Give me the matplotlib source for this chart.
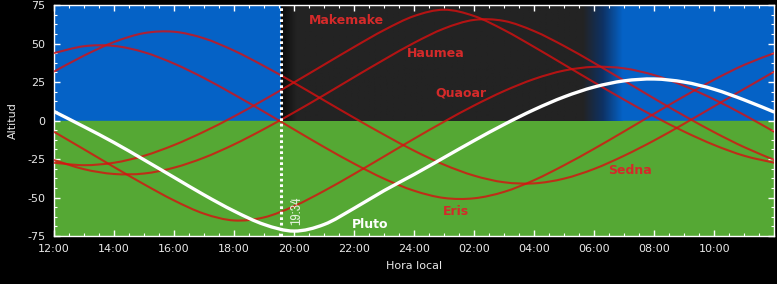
import numpy as np
import matplotlib
matplotlib.use("Agg")
import matplotlib.pyplot as plt
from matplotlib.path import Path
from matplotlib.patches import PathPatch
from matplotlib.ticker import MultipleLocator
from matplotlib import font_manager

plt.rcParams['font.family'] = ['DejaVu Sans']
plt.rcParams['axes.unicode_minus'] = False

# horas (12:00 -> 12:00 del dia siguiente, 36 = 12:00)
hours = np.arange(12, 37)
tick_hours = [12, 14, 16, 18, 20, 22, 24, 26, 28, 30, 32, 34]
tick_labels = ["12:00", "14:00", "16:00", "18:00", "20:00", "22:00", "24:00",
               "02:00", "04:00", "06:00", "08:00", "10:00"]

makemake = [-27.4, -29.0, -27.4, -22.9, -15.9, -7.2, 2.7, 13.5, 24.8, 36.3, 47.8, 58.8, 67.9,
            72.0, 67.9, 58.8, 47.8, 36.3, 24.8, 13.5, 2.7, -7.2, -15.9, -22.9, -27.4]
haumea = [-25.6, -31.6, -34.7, -34.4, -30.6, -24.1, -15.5, -5.5, 5.3, 16.6, 28.2, 39.6, 50.5,
          59.8, 65.4, 64.7, 58.1, 48.4, 37.4, 25.9, 14.3, 3.1, -7.6, -17.3, -25.6]
quaoar = [-7.3, -18.7, -30.2, -41.4, -51.9, -60.5, -64.9, -62.9, -55.6, -45.7, -34.7, -23.3, -11.8,
          -0.7, 9.8, 19.2, 27.0, 32.5, 34.9, 33.9, 29.5, 22.5, 13.7, 3.6, -7.3]
eris = [43.8, 48.3, 48.5, 44.4, 37.0, 27.6, 16.9, 5.7, -5.8, -17.2, -28.0, -37.8, -45.6,
        -50.3, -50.5, -46.3, -38.7, -29.0, -18.3, -7.0, 4.5, 15.8, 26.6, 36.2, 43.8]
sedna = [31.8, 42.2, 51.0, 56.8, 57.7, 53.4, 45.4, 35.4, 24.5, 13.1, 1.8, -9.2, -19.6,
         -28.7, -35.8, -40.1, -40.8, -37.7, -31.4, -22.8, -12.9, -2.0, 9.3, 20.6, 31.8]
pluto = [5.9, -4.0, -14.3, -25.5, -36.9, -48.3, -58.8, -67.5, -71.8, -67.5, -57.0, -45.5, -35.0,
         -24.0, -13.0, -2.5, 7.1, 15.4, 21.8, 25.8, 27.0, 25.0, 20.3, 13.4, 5.5]

sunset = 19 + 34 / 60.0        # 19:34
dawn_start = 29.63             # ~05:38
dawn_end = 30.95               # ~06:57

red_objects = {"Makemake": makemake, "Haumea": haumea, "Quaoar": quaoar,
               "Eris": eris, "Sedna": sedna}
label_pos = {"Makemake": (20.5, 65), "Haumea": (23.77, 43.6), "Quaoar": (24.7, 17.6),
             "Sedna": (30.47, -32.6), "Eris": (24.97, -59), "Pluto": (21.93, -67.8)}

SKY = np.array([5, 98, 198]) / 255.0
GROUND = "#55a834"
NIGHT = np.array([35, 35, 35]) / 255.0
NAVY = np.array([14, 50, 100]) / 255.0
DARK = np.array([10, 10, 10]) / 255.0


def smooth_path(x, y):
    """curva suave (Catmull-Rom -> Bezier) que pasa por los puntos leidos"""
    pts = np.column_stack([x, y]).astype(float)
    ext = np.vstack([pts[0], pts, pts[-1]])
    verts = [pts[0]]
    codes = [Path.MOVETO]
    for i in range(len(pts) - 1):
        p0, p1, p2, p3 = ext[i], ext[i + 1], ext[i + 2], ext[i + 3]
        verts += [p1 + (p2 - p0) / 6.0, p2 - (p3 - p1) / 6.0, p2]
        codes += [Path.CURVE4] * 3
    return Path(verts, codes)


fig = plt.figure(figsize=(7.77, 2.84), dpi=100, facecolor="black")
ax = fig.add_axes([0.0695, 0.169, 0.927, 0.813])
ax.set_facecolor("black")

ax.axhspan(0, 75, color=SKY, zorder=0)
ax.axhspan(-75, 0, color=GROUND, zorder=0)

# noche con degradado al amanecer
xs = np.linspace(sunset, dawn_end, 400)
mid = (dawn_start + dawn_end) / 2
keys_x = [sunset, sunset + 0.5, dawn_start, mid, dawn_end]
rgb = np.zeros((1, len(xs), 3))
for c in range(3):
    rgb[0, :, c] = np.interp(xs, keys_x, [DARK[c], NIGHT[c], NIGHT[c], NAVY[c], SKY[c]])
ax.imshow(rgb, extent=[sunset, dawn_end, 0, 75], aspect="auto", zorder=1,
          interpolation="bilinear")

for name, vals in red_objects.items():
    ax.add_patch(PathPatch(smooth_path(hours, vals), fill=False, edgecolor="#d81010",
                           alpha=0.8, lw=1.5, zorder=3))
ax.add_patch(PathPatch(smooth_path(hours, pluto), fill=False, edgecolor="white",
                       lw=2.4, zorder=4))

ax.axvline(sunset, color="white", lw=2.2, ls=(0, (0.9, 0.9)), zorder=5)

for name, (x, y) in label_pos.items():
    col = "white" if name == "Pluto" else "#d42a2a"
    ax.text(x, y, name, color=col, fontsize=9, fontweight="bold",
            ha="left", va="center", zorder=6)

narrow = [f.name for f in font_manager.fontManager.ttflist if "Narrow" in f.name]
ax.text(20.07, -58.6, "19:34", color="#e0f0d8",
        fontsize=10 if narrow else 8, rotation=90,
        family=(narrow[:1] + ["DejaVu Sans"]),
        ha="center", va="center", zorder=6)

ax.set_xlim(12, 36)
ax.set_ylim(-75, 75)
ax.set_xticks(tick_hours)
ax.set_xticklabels(tick_labels)
ax.xaxis.set_minor_locator(MultipleLocator(0.5))
ax.set_yticks([-75, -50, -25, 0, 25, 50, 75])
ax.yaxis.set_minor_locator(MultipleLocator(6.25))
ax.tick_params(which="both", direction="in", top=True, right=True,
               color="white", labelcolor="#e8e8e8", labelsize=8)
ax.tick_params(which="major", length=4, width=1, pad=6)
ax.tick_params(which="minor", length=2.5, width=0.8)
for s in ax.spines.values():
    s.set_color("white")
    s.set_linewidth(1)

ax.set_xlabel("Hora local", color="#e8e8e8", fontsize=8, labelpad=5)
ax.set_ylabel("Altitud", color="#e8e8e8", fontsize=8, labelpad=7)

fig.savefig("out.png", dpi=100, facecolor="black")
